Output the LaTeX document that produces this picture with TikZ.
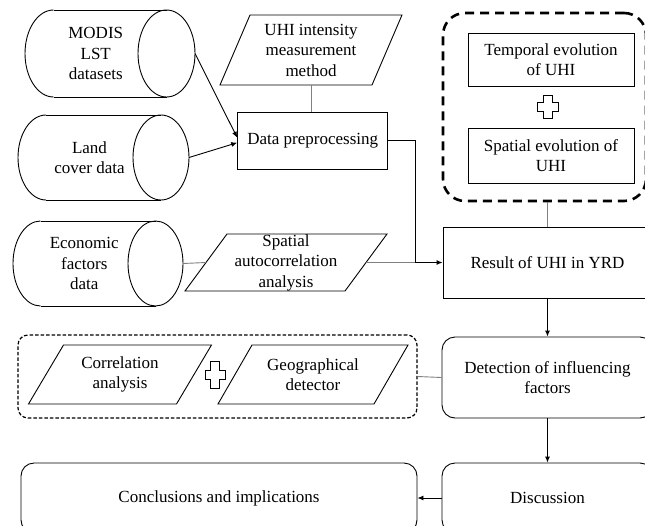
\documentclass[tikz,border=0pt]{standalone}
\usepackage{fontspec}
\setmainfont{Liberation Serif}
\usetikzlibrary{arrows.meta}
\newcommand\mycyl[7]{% name, left x, ellipse centre x, centre y, rx, ry, text
  \draw[box] ({#2+#5},{#4-#6}) -- (#3,{#4-#6});
  \draw[box] ({#2+#5},{#4+#6}) -- (#3,{#4+#6});
  \draw[box] ({#2+#5},{#4-#6}) .. controls ({#2+0.448*#5},{#4-#6}) and (#2,{#4-0.552*#6}) .. (#2,#4)
     .. controls (#2,{#4+0.552*#6}) and ({#2+0.448*#5},{#4+#6}) .. ({#2+#5},{#4+#6});
  \draw[box] (#3,#4) ellipse [x radius=#5, y radius=#6];
  \node[txt] (#1) at ({(#2+#3)/2},#4) {#7};
  \coordinate (#1-e) at ({#3+#5},#4);
}
\newcommand\mypara[7]{% name, cx, cy, half width, half height, slant, text
  \draw[box] ({#2-#4+#6},{#3-#5}) -- ({#2+#4+#6},{#3-#5}) -- ({#2+#4-#6},{#3+#5}) -- ({#2-#4-#6},{#3+#5}) -- cycle;
  \node[txt] (#1) at (#2,#3) {#7};
  \coordinate (#1-w) at ({#2-#4},#3);
  \coordinate (#1-e) at ({#2+#4},#3);
}
\newcommand\mycross[5]{% cx, cy, half width, half height, half arm
  \draw[box] ({#1-#5},{#2-#4}) -- ({#1+#5},{#2-#4}) -- ({#1+#5},{#2-#5}) -- ({#1+#3},{#2-#5})
   -- ({#1+#3},{#2+#5}) -- ({#1+#5},{#2+#5}) -- ({#1+#5},{#2+#4}) -- ({#1-#5},{#2+#4})
   -- ({#1-#5},{#2+#5}) -- ({#1-#3},{#2+#5}) -- ({#1-#3},{#2-#5}) -- ({#1-#5},{#2-#5}) -- cycle;
}
\begin{document}
\begin{tikzpicture}[x=1pt,y=-1pt,
  box/.style={draw=black, line width=0.9pt},
  txt/.style={font=\fontsize{17}{20.5}\selectfont, align=center, inner sep=0pt},
  rbox/.style={box, txt, rectangle},
  conn/.style={draw=black, line width=0.9pt, -{Latex[length=6pt,width=5pt]}},
  gline/.style={draw=black!50, line width=0.9pt},
]
\useasboundingbox (0,0) rectangle (645,525);
\clip (0,0) rectangle (645,525);
\fill[white] (0,0) rectangle (645,525);

% cylinders
\mycyl{modis}{25}{166.5}{53.5}{28.5}{43.5}{MODIS\\LST\\datasets}
\mycyl{land}{18}{161}{157.5}{28}{42.5}{Land\\cover data}
\mycyl{econ}{13}{155.5}{263.5}{27.5}{42.5}{Economic\\factors\\data}

% parallelograms
\mypara{uhi}{311}{50}{76}{35}{15}{UHI intensity\\measurement\\method}
\mypara{sac}{286}{262.5}{80}{28.5}{21}{Spatial\\autocorrelation\\analysis}
\mypara{corr}{120}{374.5}{74}{29.5}{17.5}{Correlation\\analysis}
\mypara{geo}{313}{374.5}{78}{29.5}{17}{Geographical\\detector}

% rectangles
\node[rbox, minimum width=150, minimum height=57] (dp) at (312.7,140.7) {Data preprocessing};
\node[rbox, minimum width=166, minimum height=53] (temp) at (551,59.5) {Temporal evolution\\of UHI};
\node[rbox, minimum width=166, minimum height=55] (spev) at (551,155.5) {Spatial evolution of\\UHI};
\node[rbox, minimum width=209, minimum height=71] (res) at (547.5,262.5) {Result of UHI in YRD};
\node[rbox, rounded corners=13pt, minimum width=211, minimum height=81] (det) at (547.5,377.5) {Detection of influencing\\factors};
\node[rbox, rounded corners=13pt, minimum width=211, minimum height=70] (disc) at (547.5,498) {Discussion};
\node[rbox, rounded corners=13pt, minimum width=396, minimum height=70] (conc) at (219,498) {Conclusions and implications};

% dashed groups
\node[draw=black, line width=2.6pt, dash pattern=on 9pt off 6pt, rounded corners=22pt,
      minimum width=203, minimum height=188, inner sep=0pt] (grpA) at (544.5,107) {};
\node[draw=black, line width=1.2pt, dash pattern=on 3.5pt off 2pt, rounded corners=10pt,
      minimum width=399, minimum height=83, inner sep=0pt] (grpB) at (217.5,376.5) {};

% plus signs
\mycross{548}{107}{10.5}{11.5}{4.5}
\mycross{215}{375}{10}{13.5}{4.5}

% connectors
\draw[conn] (modis-e) -- ([yshift=3pt]dp.west);
\draw[conn] (land-e) -- ([yshift=-2pt]dp.west);
\draw[gline] (uhi.south |- 0,85) -- (uhi.south |- dp.north);
\draw[gline] (econ-e) -- (sac-w);
\coordinate (jn) at (415,262.5);
\draw[gline] (sac-e) -- (jn);
\draw[conn] (dp.east) -| (jn) -- (res.west);
\draw[gline] (res.north |- grpA.south) -- (res.north);
\draw[conn] (res.south) -- (det.north);
\draw[gline] (grpB.east) -- (det.west);
\draw[conn] (det.south) -- (disc.north);
\draw[conn] (disc.west) -- (conc.east);
\end{tikzpicture}
\end{document}
